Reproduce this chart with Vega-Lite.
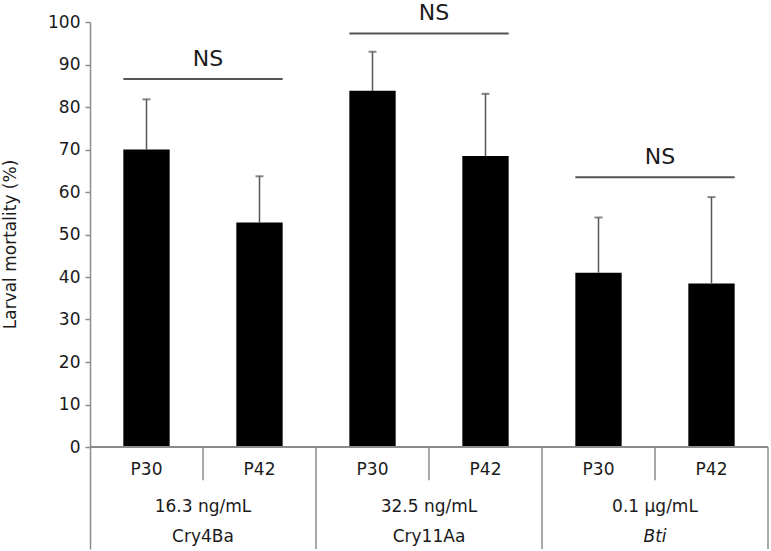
{
  "$schema": "https://vega.github.io/schema/vega-lite/v6.json",
  "width": 678,
  "height": 527,
  "autosize": {"type": "none"},
  "padding": {"left": 90, "top": 22, "right": 3, "bottom": 2},
  "background": "white",
  "config": {
    "view": {"stroke": null},
    "font": "DejaVu Sans",
    "text": {"font": "DejaVu Sans", "color": "#1a1a1a"}
  },
  "datasets": {
    "bars": [
      {"bar": "Cry4Ba P30", "toxin": "Cry4Ba", "passage": "P30", "mortality": 70.0, "upper": 81.8},
      {"bar": "Cry4Ba P42", "toxin": "Cry4Ba", "passage": "P42", "mortality": 52.8, "upper": 63.7},
      {"bar": "Cry11Aa P30", "toxin": "Cry11Aa", "passage": "P30", "mortality": 83.8, "upper": 93.0},
      {"bar": "Cry11Aa P42", "toxin": "Cry11Aa", "passage": "P42", "mortality": 68.5, "upper": 83.1},
      {"bar": "Bti P30", "toxin": "Bti", "passage": "P30", "mortality": 41.0, "upper": 54.0},
      {"bar": "Bti P42", "toxin": "Bti", "passage": "P42", "mortality": 38.5, "upper": 58.8}
    ],
    "groups": [
      {"toxin": "Cry4Ba", "conc": "16.3 ng/mL", "first": "Cry4Ba P30", "last": "Cry4Ba P42", "bracket": 86.6},
      {"toxin": "Cry11Aa", "conc": "32.5 ng/mL", "first": "Cry11Aa P30", "last": "Cry11Aa P42", "bracket": 97.3},
      {"toxin": "Bti", "conc": "0.1 µg/mL", "first": "Bti P30", "last": "Bti P42", "bracket": 63.5}
    ]
  },
  "layer": [
    {
      "data": {"name": "bars"},
      "mark": {"type": "bar", "color": "#000000", "width": {"band": 0.41}},
      "encoding": {
        "x": {
          "field": "bar", "type": "nominal", "axis": null,
          "scale": {
            "domain": ["Cry4Ba P30", "Cry4Ba P42", "Cry11Aa P30", "Cry11Aa P42", "Bti P30", "Bti P42"],
            "paddingInner": 0, "paddingOuter": 0
          }
        },
        "y": {
          "field": "mortality", "type": "quantitative",
          "scale": {"domain": [-24, 100], "nice": false},
          "axis": {
            "title": "Larval mortality (%)",
            "values": [0, 10, 20, 30, 40, 50, 60, 70, 80, 90, 100],
            "grid": false,
            "domainColor": "#8c8c8c", "domainWidth": 1.5,
            "tickColor": "#8c8c8c", "tickWidth": 1.5, "tickSize": 5,
            "labelFontSize": 17, "labelColor": "#1a1a1a", "labelPadding": 5, "labelFont": "DejaVu Sans",
            "titleFontSize": 17, "titleFontWeight": "normal", "titleColor": "#1a1a1a", "titleFont": "DejaVu Sans",
            "titleX": -80, "titleY": 222, "titleAlign": "center", "titleBaseline": "middle", "titleAngle": -90
          }
        }
      }
    },
    {
      "data": {"name": "bars"},
      "mark": {"type": "rule", "color": "#555555", "strokeWidth": 1.5},
      "encoding": {
        "x": {"field": "bar", "type": "nominal", "axis": null},
        "y": {"field": "mortality", "type": "quantitative"},
        "y2": {"field": "upper"}
      }
    },
    {
      "data": {"name": "bars"},
      "mark": {"type": "tick", "color": "#555555", "thickness": 2, "size": 8},
      "encoding": {
        "x": {"field": "bar", "type": "nominal", "axis": null},
        "y": {"field": "upper", "type": "quantitative"}
      }
    },
    {
      "data": {"name": "bars"},
      "mark": {"type": "rule", "color": "#8c8c8c", "strokeWidth": 1.5},
      "encoding": {
        "y": {"datum": 0, "type": "quantitative"}
      }
    },
    {
      "data": {"name": "bars"},
      "transform": [{"filter": "datum.passage === 'P42'"}],
      "mark": {"type": "rule", "color": "#8c8c8c", "strokeWidth": 1.5},
      "encoding": {
        "x": {"field": "bar", "type": "nominal", "bandPosition": 0, "axis": null},
        "y": {"datum": 0, "type": "quantitative"},
        "y2": {"datum": -7.8}
      }
    },
    {
      "data": {"name": "groups"},
      "mark": {"type": "rule", "color": "#8c8c8c", "strokeWidth": 1.5},
      "encoding": {
        "x": {"field": "last", "type": "nominal", "bandPosition": 1, "axis": null},
        "y": {"datum": 0, "type": "quantitative"},
        "y2": {"datum": -24}
      }
    },
    {
      "data": {"name": "bars"},
      "mark": {"type": "text", "fontSize": 17, "baseline": "middle", "align": "center"},
      "encoding": {
        "x": {"field": "bar", "type": "nominal", "axis": null},
        "y": {"datum": -5.4, "type": "quantitative"},
        "text": {"field": "passage"}
      }
    },
    {
      "data": {"name": "groups"},
      "mark": {"type": "text", "fontSize": 17, "baseline": "middle", "align": "center"},
      "encoding": {
        "x": {"field": "last", "type": "nominal", "bandPosition": 0, "axis": null},
        "y": {"datum": -14.1, "type": "quantitative"},
        "text": {"field": "conc"}
      }
    },
    {
      "data": {"name": "groups"},
      "transform": [{"filter": "datum.toxin !== 'Bti'"}],
      "mark": {"type": "text", "fontSize": 17, "baseline": "middle", "align": "center"},
      "encoding": {
        "x": {"field": "last", "type": "nominal", "bandPosition": 0, "axis": null},
        "y": {"datum": -21.2, "type": "quantitative"},
        "text": {"field": "toxin"}
      }
    },
    {
      "data": {"name": "groups"},
      "transform": [{"filter": "datum.toxin === 'Bti'"}],
      "mark": {"type": "text", "fontSize": 17, "baseline": "middle", "align": "center", "fontStyle": "italic"},
      "encoding": {
        "x": {"field": "last", "type": "nominal", "bandPosition": 0, "axis": null},
        "y": {"datum": -21.2, "type": "quantitative"},
        "text": {"field": "toxin"}
      }
    },
    {
      "data": {"name": "groups"},
      "mark": {"type": "rule", "color": "#555555", "strokeWidth": 2},
      "encoding": {
        "x": {"field": "first", "type": "nominal", "bandPosition": 0.295, "axis": null},
        "x2": {"field": "last", "bandPosition": 0.705},
        "y": {"field": "bracket", "type": "quantitative"}
      }
    },
    {
      "data": {"name": "groups"},
      "mark": {"type": "text", "text": "NS", "fontSize": 22, "baseline": "alphabetic", "align": "center", "dy": -13, "dx": 5},
      "encoding": {
        "x": {"field": "last", "type": "nominal", "bandPosition": 0, "axis": null},
        "y": {"field": "bracket", "type": "quantitative"}
      }
    }
  ]
}
